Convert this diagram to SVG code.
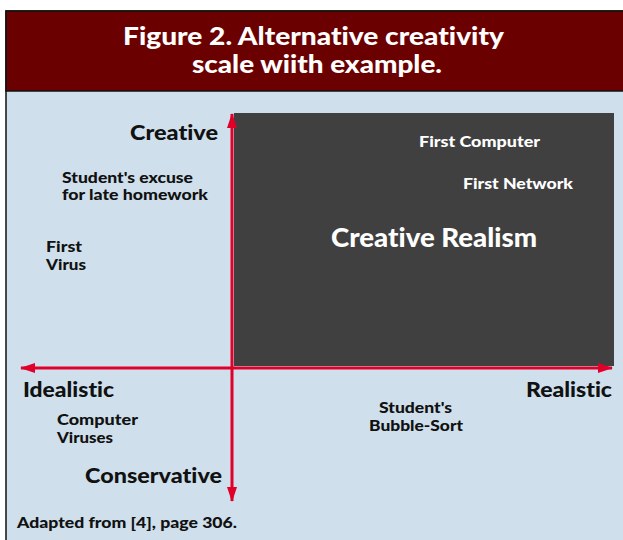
<svg xmlns="http://www.w3.org/2000/svg" width="623" height="540" viewBox="0 0 623 540">
  <style>
    text { font-family: Lato, "Open Sans", "Liberation Sans", sans-serif; font-weight: 900; font-variant-ligatures: none; font-feature-settings: "liga" 0, "clig" 0; }
    .title { fill: #ffffff; font-size: 24px; }
    .axis { fill: #111111; font-size: 21px; }
    .note { fill: #111111; font-size: 15px; }
    .inner { fill: #ffffff; font-size: 15px; }
    .big { fill: #ffffff; font-size: 27px; }
    .red { stroke: #e0002a; stroke-width: 3; fill: none; }
  </style>
  <defs>
    <marker id="head" markerUnits="userSpaceOnUse" markerWidth="16" markerHeight="12" refX="14" refY="5" orient="auto-start-reverse">
      <path d="M0,0 L15,5 L0,10 Z" fill="#e0002a"/>
    </marker>
  </defs>

  <!-- page background -->
  <rect x="0" y="0" width="623" height="540" fill="#ffffff"/>

  <!-- framed panel -->
  <rect id="panel" x="6" y="11" width="640" height="560" fill="#cfe0ec" stroke="#111111" stroke-width="1.5"/>

  <!-- title bar -->
  <g id="title">
    <rect x="6" y="11" width="640" height="80" fill="#6b0000" stroke="#111111" stroke-width="1.5"/>
    <text class="title" x="123" y="45" textLength="381" lengthAdjust="spacingAndGlyphs">Figure 2. Alternative creativity</text>
    <text class="title" x="192" y="73" textLength="250" lengthAdjust="spacingAndGlyphs">scale wiith example.</text>
  </g>

  <!-- creative realism quadrant -->
  <g id="quadrant">
    <rect x="234" y="113" width="380" height="253" fill="#404040"/>
    <text class="inner" x="419" y="147" textLength="121" lengthAdjust="spacingAndGlyphs">First Computer</text>
    <text class="inner" x="463" y="189" textLength="110" lengthAdjust="spacingAndGlyphs">First Network</text>
    <text class="big" x="331" y="247" textLength="206" lengthAdjust="spacingAndGlyphs">Creative Realism</text>
  </g>

  <!-- axes, arrowheads at both ends -->
  <g id="connectors">
    <line class="red" x1="21" y1="368" x2="612" y2="368" marker-start="url(#head)" marker-end="url(#head)"/>
    <line class="red" x1="232" y1="114" x2="232" y2="501" marker-start="url(#head)" marker-end="url(#head)"/>
  </g>

  <!-- axis labels -->
  <g id="creative"><text class="axis" x="130" y="140" textLength="88" lengthAdjust="spacingAndGlyphs">Creative</text></g>
  <g id="idealistic"><text class="axis" x="23" y="397" textLength="91" lengthAdjust="spacingAndGlyphs">Idealistic</text></g>
  <g id="realistic"><text class="axis" x="526" y="397" textLength="86" lengthAdjust="spacingAndGlyphs">Realistic</text></g>
  <g id="conservative"><text class="axis" x="85" y="483" textLength="137" lengthAdjust="spacingAndGlyphs">Conservative</text></g>

  <!-- examples -->
  <g id="excuse">
    <text class="note" x="62" y="183" textLength="131" lengthAdjust="spacingAndGlyphs">Student's excuse</text>
    <text class="note" x="62" y="200" textLength="146" lengthAdjust="spacingAndGlyphs">for late homework</text>
  </g>
  <g id="first-virus">
    <text class="note" x="46" y="252" textLength="36" lengthAdjust="spacingAndGlyphs">First</text>
    <text class="note" x="46" y="270" textLength="40" lengthAdjust="spacingAndGlyphs">Virus</text>
  </g>
  <g id="computer-viruses">
    <text class="note" x="57" y="425" textLength="81" lengthAdjust="spacingAndGlyphs">Computer</text>
    <text class="note" x="57" y="443" textLength="56" lengthAdjust="spacingAndGlyphs">Viruses</text>
  </g>
  <g id="bubble-sort">
    <text class="note" x="379" y="413" textLength="73" lengthAdjust="spacingAndGlyphs">Student's</text>
    <text class="note" x="369" y="431" textLength="94" lengthAdjust="spacingAndGlyphs">Bubble-Sort</text>
  </g>

  <!-- source line -->
  <text class="note" x="17" y="528" textLength="220" lengthAdjust="spacingAndGlyphs">Adapted from [4], page 306.</text>
</svg>
